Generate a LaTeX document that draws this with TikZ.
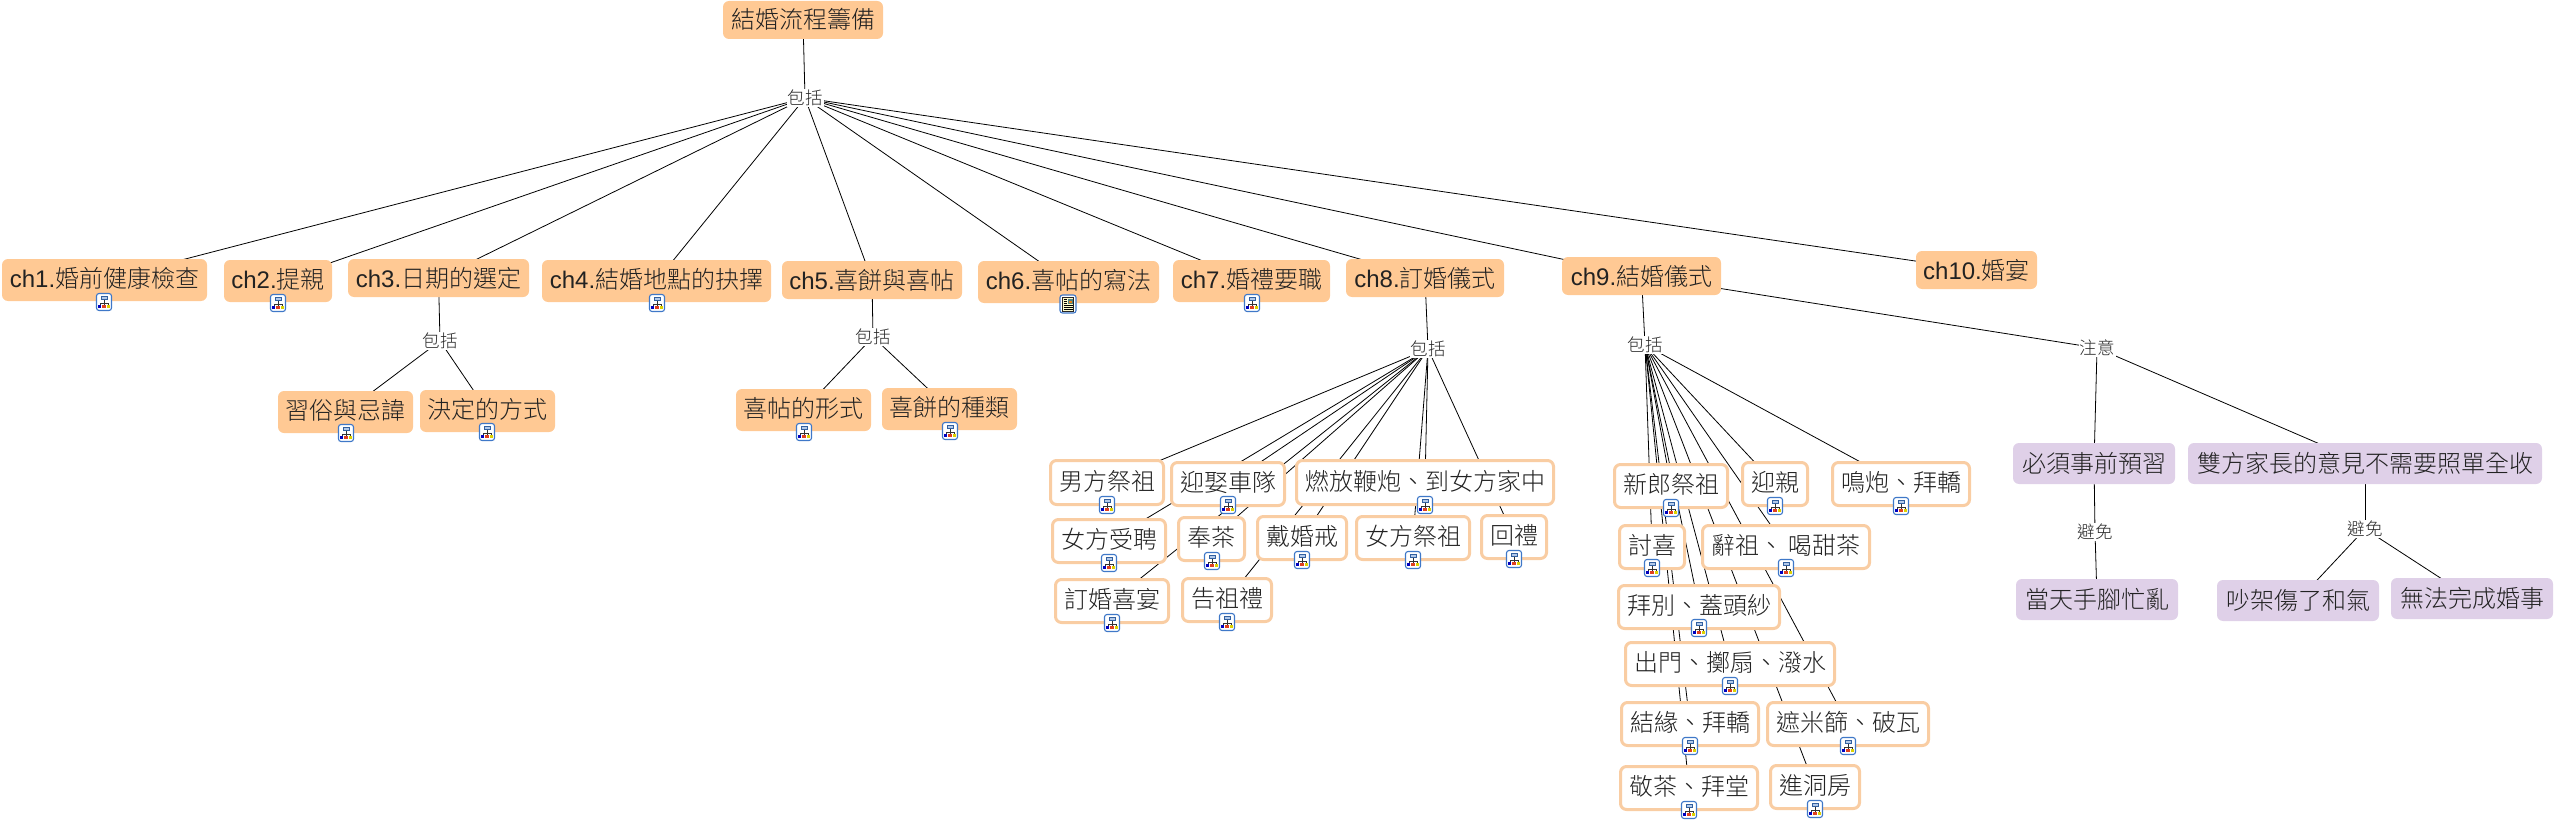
\documentclass[tikz,border=0pt]{standalone}
\usepackage{fontspec}
\setmainfont{Noto Sans CJK TC}[UprightFont=* Light]
\newfontfamily\latinpart{Liberation Sans}
\pgfdeclarelayer{edgelayer}
\pgfsetlayers{edgelayer,main}
\definecolor{peach}{HTML}{FFC994}
\definecolor{peachline}{HTML}{F9CDA3}
\definecolor{lilac}{HTML}{DFD0E8}
\definecolor{inktext}{HTML}{222222}
\definecolor{iconblue}{HTML}{3F78C8}
\newcommand\ch[1]{{\latinpart #1}}
\newcommand\boxnode[7]{%
  \pgfmathsetmacro\nw{#5-#3}\pgfmathsetmacro\nh{#6-#4}%
  \pgfmathsetmacro\ncx{(#3+#5)/2}\pgfmathsetmacro\ncy{(#4+#6)/2}%
  \node[#1,minimum width=\nw pt,minimum height=\nh pt] (#2) at (\ncx,\ncy) {#7};}
\newcommand\ringnode[6]{%
  \pgfmathsetmacro\nw{#4-#2-3}\pgfmathsetmacro\nh{#5-#3-3}%
  \pgfmathsetmacro\ncx{(#2+#4)/2}\pgfmathsetmacro\ncy{(#3+#5)/2}%
  \node[ringbox,minimum width=\nw pt,minimum height=\nh pt] (#1) at (\ncx,\ncy) {#6};}
\tikzset{
  basebox/.style={rounded corners=6pt,inner sep=0pt,outer sep=0pt,text=inktext,
    font=\fontsize{24}{28}\selectfont,text height=21pt,text depth=3pt,anchor=center},
  solidbox/.style={basebox,fill=peach},
  iconbox/.style={basebox,fill=peach,text height=19pt,text depth=5pt},
  ringbox/.style={basebox,fill=white,draw=peachline,line width=3pt,text height=19.5pt,text depth=4.5pt},
  lilacbox/.style={basebox,fill=lilac},
  linkword/.style={fill=white,inner sep=1pt,outer sep=0pt,text=black!85,
    font=\fontsize{17.5}{20}\selectfont},
  edge/.style={draw=black,line width=0.8pt},
  maplink/.pic={
    \draw[iconblue,fill=white,line width=1.1pt,rounded corners=2.5pt] (-7.5,-8.5) rectangle (7.5,8.5);
    \draw[black!80,line width=0.6pt] (0,-2) -- (0,1) (-4,3) -- (-4,1) -- (4,1) -- (4,3) (0,1) -- (0,3);
    \draw[iconblue!80!black,fill=iconblue!40,line width=0.8pt] (-3,-6) rectangle (3,-2.2);
    \fill[blue!75!black] (-5.8,2.8) rectangle (-2.6,6);
    \fill[red!50!brown] (-1.6,2.8) rectangle (1.6,6);
    \fill[yellow!70!olive] (2.6,2.8) rectangle (5.8,6);
  },
  doclink/.pic={
    \draw[iconblue,fill=white,line width=1.1pt,rounded corners=2.5pt] (-8,-9) rectangle (8,9);
    \draw[black!85,fill=yellow!20,line width=0.9pt] (-5.5,-6.5) rectangle (5.5,7);
    \fill[gray!60!teal] (-0.5,-5.5) rectangle (4.5,0);
    \fill[orange!70!brown] (1,-3) rectangle (4,-1);
    \draw[black,line width=0.8pt] (-4.5,-4.5) -- (-1.5,-4.5) (-4.5,-2.5) -- (-1.5,-2.5) (-4.5,-0.5) -- (-1.5,-0.5)
      (-4.5,1.5) -- (4.5,1.5) (-4.5,3.5) -- (4.5,3.5) (-4.5,5.5) -- (4.5,5.5);
  }
}
\begin{document}
\begin{tikzpicture}[x=1pt,y=-1pt]
\useasboundingbox (0,0) rectangle (2555,821);
% main concepts
\boxnode{solidbox}{root}{723}{1}{883}{39}{結婚流程籌備}
\node[linkword] (w0) at (805,98) {包括};
\boxnode{iconbox}{c1}{2}{259}{207}{301}{\ch{ch1.}婚前健康檢查}
\boxnode{iconbox}{c2}{224}{260}{332}{302}{\ch{ch2.}提親}
\boxnode{solidbox}{c3}{348}{259}{529}{297}{\ch{ch3.}日期的選定}
\boxnode{iconbox}{c4}{542}{260}{771}{302}{\ch{ch4.}結婚地點的抉擇}
\boxnode{solidbox}{c5}{782}{261}{962}{299}{\ch{ch5.}喜餅與喜帖}
\boxnode{iconbox}{c6}{978}{261}{1159}{303}{\ch{ch6.}喜帖的寫法}
\boxnode{iconbox}{c7}{1173}{260}{1330}{302}{\ch{ch7.}婚禮要職}
\boxnode{solidbox}{c8}{1346}{259}{1504}{297}{\ch{ch8.}訂婚儀式}
\boxnode{solidbox}{c9}{1562}{257}{1721}{295}{\ch{ch9.}結婚儀式}
\boxnode{solidbox}{c10}{1916}{251}{2037}{289}{\ch{ch10.}婚宴}
% ch3, ch5
\node[linkword] (w3) at (440,341) {包括};
\boxnode{iconbox}{c3a}{278}{391}{413}{433}{習俗與忌諱}
\boxnode{iconbox}{c3b}{420}{390}{555}{432}{決定的方式}
\node[linkword] (w5) at (873,337) {包括};
\boxnode{iconbox}{c5a}{736}{389}{871}{431}{喜帖的形式}
\boxnode{iconbox}{c5b}{882}{388}{1017}{430}{喜餅的種類}
% ch8
\node[linkword] (w8) at (1428,349) {包括};
\ringnode{e1}{1049}{459}{1165}{506}{男方祭祖}
\ringnode{e2}{1170}{461}{1286}{507}{迎娶車隊}
\ringnode{e3}{1295}{459}{1555}{506}{燃放鞭炮、到女方家中}
\ringnode{e4}{1051}{518}{1167}{564}{女方受聘}
\ringnode{e5}{1177}{516}{1246}{562}{奉茶}
\ringnode{e6}{1256}{515}{1348}{561}{戴婚戒}
\ringnode{e7}{1355}{515}{1471}{561}{女方祭祖}
\ringnode{e8}{1480}{514}{1548}{560}{回禮}
\ringnode{e9}{1054}{578}{1170}{624}{訂婚喜宴}
\ringnode{e10}{1181}{577}{1273}{623}{告祖禮}
% ch9
\node[linkword] (w9) at (1645,345) {包括};
\ringnode{m1}{1613}{463}{1729}{509}{新郎祭祖}
\ringnode{m2}{1741}{461}{1809}{507}{迎親}
\ringnode{m3}{1831}{461}{1971}{507}{鳴炮、拜轎}
\ringnode{m4}{1618}{524}{1686}{570}{討喜}
\ringnode{m5}{1701}{524}{1871}{570}{辭祖、 喝甜茶}
\ringnode{m6}{1617}{584}{1781}{630}{拜別、蓋頭紗}
\ringnode{m7}{1624}{641}{1836}{687}{出門、擲扇、潑水}
\ringnode{m8}{1620}{701}{1760}{747}{結緣、拜轎}
\ringnode{m9}{1766}{701}{1930}{747}{遮米篩、破瓦}
\ringnode{m10}{1619}{765}{1759}{811}{敬茶、拜堂}
\ringnode{m11}{1769}{764}{1861}{810}{進洞房}
% notes
\node[linkword] (wn) at (2097,348) {注意};
\boxnode{lilacbox}{n1}{2013}{443}{2175}{484}{必須事前預習}
\boxnode{lilacbox}{n2}{2188}{443}{2542}{484}{雙方家長的意見不需要照單全收}
\node[linkword] (wa) at (2095,532) {避免};
\node[linkword] (wb) at (2365,529) {避免};
\boxnode{lilacbox}{n3}{2016}{579}{2178}{620}{當天手腳忙亂}
\boxnode{lilacbox}{n4}{2217}{580}{2379}{621}{吵架傷了和氣}
\boxnode{lilacbox}{n5}{2391}{578}{2553}{619}{無法完成婚事}
% icons
\foreach \ix/\iy in {104/302,278/303,657/303,1252/303,346/433,487/432,804/432,950/431,
  1107/505,1228/505,1425/505,1109/563,1212/561,1302/560,1413/560,1514/559,1112/623,1227/622,
  1671/508,1775/506,1901/506,1652/568,1786/568,1699/628,1730/686,1690/746,1848/746,1689/810,1815/809}
  \pic at (\ix,\iy) {maplink};
\pic at (1068,304) {doclink};
% connectors
\begin{pgfonlayer}{edgelayer}
\draw[edge] (root.center) -- (w0.center);
\foreach \t in {c1,c2,c3,c4,c5,c6,c7,c8,c9,c10} \draw[edge] (w0.center) -- (\t.center);
\draw[edge] (c3.center) -- (w3.center);
\foreach \t in {c3a,c3b} \draw[edge] (w3.center) -- (\t.center);
\draw[edge] (c5.center) -- (w5.center);
\foreach \t in {c5a,c5b} \draw[edge] (w5.center) -- (\t.center);
\draw[edge] (c8.center) -- (w8.center);
\foreach \t in {e1,e2,e3,e4,e5,e6,e7,e8,e9,e10} \draw[edge] (w8.center) -- (\t.center);
\draw[edge] (c9.center) -- (w9.center);
\foreach \t in {m1,m2,m3,m4,m5,m6,m7,m8,m9,m10,m11} \draw[edge] (w9.center) -- (\t.center);
\draw[edge] (c9.center) -- (wn.center);
\foreach \t in {n1,n2} \draw[edge] (wn.center) -- (\t.center);
\draw[edge] (n1.center) -- (wa.center);
\draw[edge] (wa.center) -- (n3.center);
\draw[edge] (n2.center) -- (wb.center);
\foreach \t in {n4,n5} \draw[edge] (wb.center) -- (\t.center);
\end{pgfonlayer}
\end{tikzpicture}
\end{document}
